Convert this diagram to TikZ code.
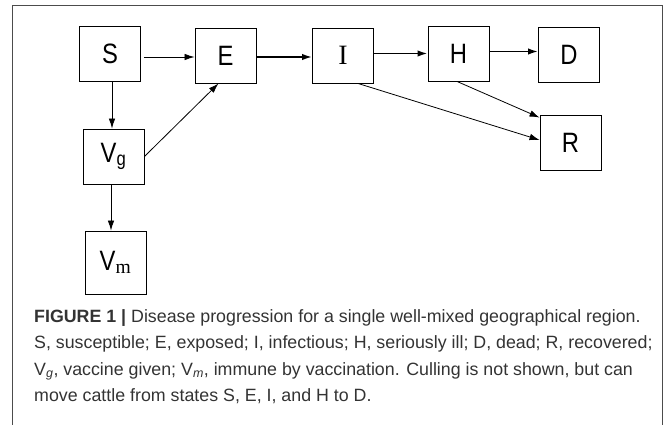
\documentclass[tikz,border=0pt]{standalone}
\usepackage{fontspec}
\setmainfont{Liberation Sans}
\newfontfamily\serifface{Liberation Serif}
\newfontfamily\boxface[FakeStretch=0.85]{Liberation Sans}
\usetikzlibrary{arrows.meta}
\tikzset{
    state/.style={draw, line width=0.9pt, minimum width=61pt, minimum height=55pt,
        inner sep=0pt, font=\boxface\fontsize{28}{28}\selectfont},
    flow/.style={-{Latex[length=10pt,width=6.5pt]}, line width=0.8pt},
    mainflow/.style={flow, line width=1.7pt},
}
\begin{document}
\begin{tikzpicture}[x=1pt,y=-1pt]
    \useasboundingbox (0,0) rectangle (667,425);
    % frame, open at the bottom
    \draw[line width=1pt, black!70] (12,425) -- (12,6) -- (662,6) -- (662,425);

    % compartments
    \node[state] (S) at (110,54) {S};
    \node[state] (E) at (225.5,55.5) {E};
    \node[state] (I) at (343,55.5) {\serifface I};
    \node[state] (H) at (458.5,53.5) {H};
    \node[state] (D) at (569,54.5) {D};
    \node[state] (R) at (570.5,142.5) {R};
    \node[state] (Vg) at (113.5,156.5) {V\textsubscript{g}};
    \node[state, minimum height=63pt] (Vm) at (115.5,262.5) {V\textsubscript{\serifface m}};

    % transitions
    \draw[flow, shorten <=3pt] ([yshift=-3pt]S.east) -- ([yshift=-1.5pt]E.west);
    \draw[mainflow] ([yshift=-1.5pt]E.east) -- ([yshift=-1.5pt]I.west);
    \draw[mainflow] (I.east |- H.west) -- (H.west);
    \draw[mainflow] ([yshift=2pt]H.east) -- ([yshift=2pt]H.east -| D.west);
    \draw[flow] ([xshift=2pt]S.south) -- ([xshift=2pt]S.south |- Vg.north);
    \draw[flow] (Vg.east) -- ([xshift=-7pt]E.south);
    \draw[flow] ([xshift=-2.5pt]Vg.south) -- ([xshift=-2.5pt]Vg.south |- Vm.north);
    \draw[flow] ([xshift=15pt]I.south) -- ([yshift=2.5pt]R.west);
    \draw[flow] ([xshift=-1.5pt]H.south) -- ([yshift=-3pt]R.north west);

    % caption
    \node[anchor=north west, align=left, inner sep=0pt, text=black!80,
        font=\fontsize{17.8}{26.5}\selectfont] (caption) at (34,309)
        {\textbf{FIGURE 1 |} Disease progression for a single well-mixed geographical region.\\
         S, susceptible; E, exposed; I, infectious; H, seriously ill; D, dead; R, recovered;\\
         V\textsubscript{\textit{g}}, vaccine given; V\textsubscript{\textit{m}}, immune by vaccination. Culling is not shown, but can\\
         move cattle from states S, E, I, and H to D.};
\end{tikzpicture}
\end{document}
